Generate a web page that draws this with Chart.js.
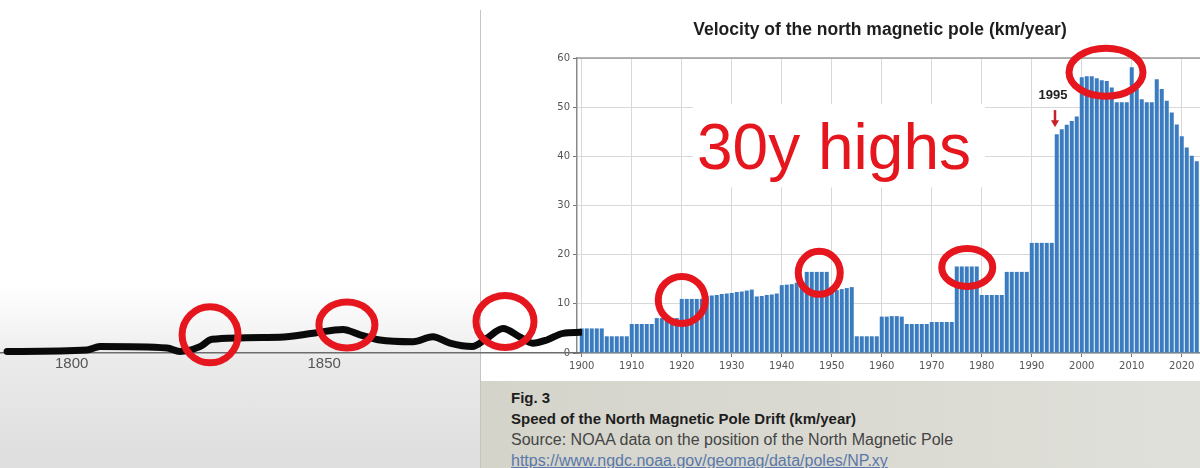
<!DOCTYPE html>
<html>
<head>
<meta charset="utf-8">
<script src="https://cdn.jsdelivr.net/npm/chart.js@4.4.0/dist/chart.umd.min.js"></script>
<style>
  html, body { margin: 0; padding: 0; }
  body { width: 1200px; height: 468px; overflow: hidden; position: relative; background: #fff; font-family: "Liberation Sans", Arial, sans-serif; }
  #leftBg { position: absolute; left: 0; top: 0; width: 481px; height: 468px;
    background: linear-gradient(to bottom, #fff 0, #fff 285px, #f3f3f3 335px, #ebebeb 358px, #e3e3e3 420px, #dedede 468px); }
  #divider { position: absolute; left: 480px; top: 10px; width: 1px; height: 458px; background: #c4c4c4; }
  #caption { position: absolute; left: 481px; top: 381px; width: 719px; height: 87px;
    background: linear-gradient(to right, #d4d4cb, #dbdbd4 60%, #e0e0da); }
  #caption div { position: absolute; left: 30px; white-space: nowrap; line-height: 18px; }
  .fig { top: 8px; font-weight: bold; font-size: 15px; color: #1e1e1e; }
  .ttl { top: 29px; font-weight: bold; font-size: 15px; color: #1e1e1e; }
  .src { top: 50px; font-size: 16px; color: #444; }
  .lnk { top: 71px; font-size: 16px; color: #5a78a8; text-decoration: underline; }
  #barChart { position: absolute; left: 481px; top: 0; background: #fff; }
  #lineChart { position: absolute; left: 0; top: 0; z-index: 2; }
</style>
</head>
<body>
<div id="leftBg"></div>
<div id="caption">
  <div class="fig">Fig. 3</div>
  <div class="ttl">Speed of the North Magnetic Pole Drift (km/year)</div>
  <div class="src">Source: NOAA data on the position of the North Magnetic Pole</div>
  <div class="lnk">https://www.ngdc.noaa.gov/geomag/data/poles/NP.xy</div>
</div>
<canvas id="barChart" width="734" height="381"></canvas>
<div id="divider"></div>
<canvas id="lineChart" width="582" height="378"></canvas>
<script>
// ---- data ----
// yearly bars, 1900 .. 2023
const barStartYear = 1900;
const barSpeeds = [
  5.0, 5.0, 5.0, 5.0, 5.0,        // 1900-1904
  3.4, 3.4, 3.4, 3.4, 3.4,        // 1905-1909
  5.9, 5.9, 5.9, 5.9, 5.9,        // 1910-1914
  7.1, 7.1, 7.1, 7.1, 7.1,        // 1915-1919
  11.0, 11.0, 11.0, 11.0, 11.0,   // 1920-1924
  11.6, 11.7, 11.8, 12.0, 12.1, 12.2, 12.4, 12.5, 12.7, 12.9, // 1925-1934
  11.5, 11.6, 11.8, 11.9, 12.1,   // 1935-1939
  13.8, 13.9, 14.0, 14.3, 14.3,   // 1940-1944
  16.5, 16.5, 16.5, 16.5, 16.5,   // 1945-1949
  12.6, 12.8, 13.0, 13.2, 13.4,   // 1950-1954
  3.4, 3.4, 3.4, 3.4, 3.4,        // 1955-1959
  7.4, 7.4, 7.5, 7.5, 7.4,        // 1960-1964
  5.9, 5.9, 5.9, 5.9, 5.9,        // 1965-1969
  6.3, 6.3, 6.3, 6.3, 6.3,        // 1970-1974
  17.6, 17.6, 17.6, 17.6, 17.6,   // 1975-1979
  11.8, 11.8, 11.8, 11.8, 11.8,   // 1980-1984
  16.5, 16.5, 16.5, 16.5, 16.5,   // 1985-1989
  22.4, 22.4, 22.4, 22.4, 22.4,   // 1990-1994
  44.5, 45.5, 46.4, 47.2, 48.1,   // 1995-1999
  56.1, 56.3, 56.3, 55.9, 55.5, 55.3, 54.0, 51.0, 51.0, 51.0, // 2000-2009
  58.1, 53.7, 51.6, 51.0, 51.0, 55.7, 53.7, 51.3, 48.9, 46.5, // 2010-2019
  44.1, 41.8, 40.1, 39.0          // 2020-2023
];
const barYears = barSpeeds.map((v, i) => barStartYear + i);
const barTickYears = [1900, 1910, 1920, 1930, 1940, 1950, 1960, 1970, 1980, 1990, 2000, 2010, 2020];

// older drift curve (left part), km/year
const lineYears  = [1787.2, 1803.0, 1805.6, 1818.9, 1821.4, 1825.4, 1827.8, 1841.2, 1847.8, 1853.7, 1857.1, 1861.0, 1867.6, 1871.5, 1874.9, 1879.3, 1882.2, 1885.4, 1888.7, 1891.3, 1894.1, 1897.3, 1900.7];
const lineSpeeds = [0.3, 0.6, 1.3, 1.0, 0.3, 1.3, 2.8, 3.2, 4.0, 4.8, 3.7, 2.65, 2.3, 3.3, 2.0, 1.3, 3.0, 5.0, 3.3, 2.0, 2.65, 4.0, 4.2];
const lineTickYears = [1800, 1850];

// red marker rings: [year, km/year, rx, ry]
const barRings  = [[1920.0, 10.8, 23.5, 23.5], [1947.5, 16.3, 21, 21.5], [1977.1, 17.4, 25.5, 19], [2004.85, 57.1, 37, 24]];
const lineRings = [[1827.4, 3.7, 28, 28], [1854.5, 5.7, 28, 23], [1885.8, 6.4, 29, 26]];

const RED = '#e5161d';

function ring(ctx, cx, cy, rx, ry) {
    ctx.save();
    ctx.strokeStyle = RED;
    ctx.lineWidth = 7;
    ctx.beginPath();
    ctx.ellipse(cx, cy, rx, ry, 0, 0, Math.PI * 2);
    ctx.stroke();
    ctx.restore();
}

// ===== BAR CHART NOTES =====
const barNotes = {
    id: 'barNotes',
    afterDraw(chart) {
        const { ctx, chartArea, scales: { x, y } } = chart;

        // top spine
        ctx.save();
        ctx.strokeStyle = '#9a9a9a';
        ctx.lineWidth = 1.5;
        ctx.beginPath();
        ctx.moveTo(chartArea.left, chartArea.top);
        ctx.lineTo(chartArea.right, chartArea.top);
        ctx.stroke();

        // title
        ctx.fillStyle = '#1e1e1e';
        ctx.font = 'bold 17.5px "Liberation Sans", Arial, sans-serif';
        ctx.textAlign = 'center';
        ctx.textBaseline = 'middle';
        ctx.fillText('Velocity of the north magnetic pole (km/year)', 399, 30);

        // white box + big label
        const bx0 = x.getPixelForValue(1922.25), bx1 = x.getPixelForValue(1980.65);
        const by0 = y.getPixelForValue(50.6), by1 = y.getPixelForValue(33.7);
        ctx.fillStyle = '#fff';
        ctx.fillRect(bx0, by0, bx1 - bx0, by1 - by0);
        ctx.fillStyle = RED;
        ctx.font = '64px "Liberation Sans", Arial, sans-serif';
        ctx.textAlign = 'left';
        ctx.textBaseline = 'alphabetic';
        ctx.fillText('30y highs', x.getPixelForValue(1923.05), y.getPixelForValue(37.35));

        // 1995 marker
        ctx.fillStyle = '#222';
        ctx.font = 'bold 13px "Liberation Sans", Arial, sans-serif';
        ctx.textAlign = 'center';
        ctx.textBaseline = 'middle';
        ctx.fillText('1995', x.getPixelForValue(1994.25), y.getPixelForValue(52.3));
        const ax = x.getPixelForValue(1994.65);
        const aTop = y.getPixelForValue(49.4), aTip = y.getPixelForValue(45.9);
        ctx.strokeStyle = '#c8202a';
        ctx.fillStyle = '#c8202a';
        ctx.lineWidth = 2.5;
        ctx.beginPath();
        ctx.moveTo(ax, aTop);
        ctx.lineTo(ax, aTip - 6);
        ctx.stroke();
        ctx.beginPath();
        ctx.moveTo(ax - 4, aTip - 7);
        ctx.lineTo(ax + 4, aTip - 7);
        ctx.lineTo(ax, aTip);
        ctx.closePath();
        ctx.fill();
        ctx.restore();

        barRings.forEach(r => ring(ctx, x.getPixelForValue(r[0]), y.getPixelForValue(r[1]), r[2], r[3]));
    }
};

new Chart(document.getElementById('barChart'), {
    type: 'bar',
    data: {
        datasets: [{
            data: barYears.map((yr, i) => ({ x: yr, y: barSpeeds[i] })),
            backgroundColor: '#3b7cc0',
            borderWidth: 0,
            categoryPercentage: 1,
            barPercentage: 0.8
        }]
    },
    options: {
        responsive: false,
        animation: false,
        layout: { padding: { left: 46, top: 58, right: 0, bottom: 0 } },
        plugins: { legend: { display: false }, tooltip: { enabled: false }, title: { display: false } },
        scales: {
            x: {
                type: 'linear',
                min: 1899.05,
                max: 2026.65,
                offset: false,
                afterBuildTicks: axis => { axis.ticks = barTickYears.map(v => ({ value: v })); },
                afterFit: s => { s.height = 28; },
                ticks: {
                    color: '#555',
                    padding: 3,
                    maxRotation: 0,
                    autoSkip: false,
                    font: { family: '"DejaVu Sans", sans-serif', size: 10 },
                    callback: v => String(v)
                },
                grid: { offset: false, color: '#d8d8d8', tickLength: 4, tickColor: '#777' },
                border: { color: '#8a8a8a', width: 1.5 }
            },
            y: {
                min: 0,
                max: 60,
                afterFit: s => { s.width = 50; },
                ticks: {
                    stepSize: 10,
                    color: '#555',
                    padding: 3,
                    font: { family: '"DejaVu Sans", sans-serif', size: 10 }
                },
                grid: { color: '#d8d8d8', tickLength: 4, tickColor: '#777' },
                border: { color: '#8a8a8a', width: 1.5 }
            }
        }
    },
    plugins: [barNotes]
});

// ===== LEFT LINE (older record) =====
const lineNotes = {
    id: 'lineNotes',
    afterDraw(chart) {
        const { ctx, scales: { x, y } } = chart;
        lineRings.forEach(r => ring(ctx, x.getPixelForValue(r[0]), y.getPixelForValue(r[1]), r[2], r[3]));
    }
};

new Chart(document.getElementById('lineChart'), {
    type: 'line',
    data: {
        datasets: [{
            data: lineYears.map((yr, i) => ({ x: yr, y: lineSpeeds[i] })),
            borderColor: '#0a0a0a',
            borderWidth: 7,
            pointRadius: 0,
            cubicInterpolationMode: 'monotone',
            borderCapStyle: 'round',
            borderJoinStyle: 'round',
            fill: false,
            clip: false
        }]
    },
    options: {
        responsive: false,
        animation: false,
        layout: { padding: { left: 0, top: 58, right: 0, bottom: 0 } },
        plugins: { legend: { display: false }, tooltip: { enabled: false } },
        scales: {
            x: {
                type: 'linear',
                min: 1785.8,
                max: 1901.05,
                afterBuildTicks: axis => { axis.ticks = lineTickYears.map(v => ({ value: v })); },
                afterFit: s => { s.height = 25; },
                ticks: {
                    color: '#555',
                    padding: 2,
                    maxRotation: 0,
                    font: { family: '"Liberation Sans", Arial, sans-serif', size: 15 },
                    callback: v => String(v)
                },
                grid: { display: false, drawTicks: false, tickLength: 0 },
                border: { display: true, color: '#6c6c6c', width: 1.5 }
            },
            y: { display: false, min: 0, max: 60 }
        }
    },
    plugins: [lineNotes]
});
</script>
</body>
</html>
